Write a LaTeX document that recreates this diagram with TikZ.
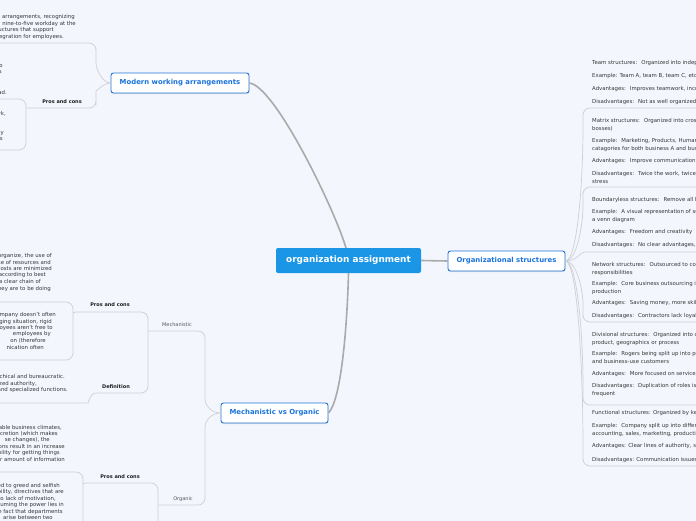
\documentclass[tikz,border=0pt]{standalone}
\usepackage{fontspec}
\setmainfont{DejaVu Sans}
\usetikzlibrary{shadows}
\definecolor{bgc}{RGB}{243,246,253}
\definecolor{rootc}{RGB}{27,150,230}
\definecolor{mainb}{RGB}{35,115,215}
\definecolor{maint}{RGB}{25,115,220}
\definecolor{txt}{RGB}{55,55,55}
\definecolor{lblc}{RGB}{30,30,30}
\definecolor{sublc}{RGB}{85,85,85}
\definecolor{conn}{RGB}{205,207,212}
\definecolor{connm}{RGB}{170,170,170}
\tikzset{
 rootbox/.style={fill=rootc, text=white, font=\fontsize{8.9}{10}\selectfont\bfseries, rounded corners=2pt, minimum width=145pt, minimum height=25pt, inner sep=0pt},
 mainbox/.style={fill=white, draw=mainb, line width=0.9pt, text=maint, font=\fontsize{6.9}{8}\selectfont\bfseries, rounded corners=2.5pt, minimum height=20pt, inner sep=0pt, drop shadow={opacity=0.2,shadow xshift=0.4pt,shadow yshift=-1pt}},
 rtx/.style={anchor=base west, inner sep=0pt, text=txt, font=\fontsize{5.4}{6.5}\selectfont},
 ltx/.style={anchor=base east, inner sep=0pt, text=txt, font=\fontsize{5.4}{6.5}\selectfont},
 lbl/.style={inner sep=0pt, text=lblc, font=\fontsize{5}{6}\selectfont\bfseries},
 sublbl/.style={inner sep=0pt, text=sublc, font=\fontsize{5}{6}\selectfont},
 subline/.style={draw=conn, line width=0.7pt, rounded corners=7pt},
 mainline/.style={draw=connm, line width=1.6pt},
}
\newcommand\RT[3]{\node[rtx] (#1) at (592,{#2+1.8}) {#3};}
\newcommand\LT[4]{\node[ltx] (#1) at (#2,{#3+1.8}) {#4};}
\begin{document}
\begin{tikzpicture}[x=1pt,y=-1pt]
\useasboundingbox (0,0) rectangle (696,520);
\clip (0,0) rectangle (696,520);
\fill[bgc] (-5,-5) rectangle (701,525);

% main nodes
\node[rootbox] (root) at (348.5,260.5) {organization assignment};
\node[mainbox, minimum width=117pt] (org) at (506.5,261) {Organizational structures};
\node[mainbox, minimum width=138pt] (mod) at (180,83) {Modern working arrangements};
\node[mainbox, minimum width=107pt] (mvo) at (274.5,413) {Mechanistic vs Organic};

% main connectors
\coordinate (roottop) at (346,248);
\draw[mainline] (mod.east) .. controls (275,86) and (335,210) .. (roottop);
\draw[mainline] (root.south) .. controls (347,330) and (341,400) .. (mvo.east);
\draw[mainline] (root.east) -- (org.west);

% organizational structures connectors
\foreach \b in {108,187}
  \draw[subline] (org.east) .. controls (577,261) and (583,{(\b+261)/2}) .. (583,\b+12) -- (583,\b) -- (700,\b);
\draw[subline] (org.east) .. controls (578,261) and (579,252) .. (592,252) -- (700,252);
\foreach \b in {322,405,466}
  \draw[subline] (org.east) .. controls (577,261) and (583,{(\b+261)/2}) .. (583,\b-12) -- (583,\b) -- (700,\b);

% right texts
\RT{r1}{63}{Team structures:~ Organized into independent teams}
\RT{r2}{76}{Example: Team A, team B, team C, etc. each with}
\RT{r3}{89}{Advantages:~ Improves teamwork, increases flexibility}
\RT{r4}{102}{Disadvantages:~ Not as well organized}
\RT{r5}{121}{Matrix structures:~ Organized into cross-functional teams (two}
\RT{r6}{128.5}{bosses)}
\RT{r7}{141}{Example:~ Marketing, Products, Human Resources as}
\RT{r8}{148.5}{catagories for both business A and business B}
\RT{r9}{161}{Advantages:~ Improve communication between}
\RT{r10}{174}{Disadvantages:~ Twice the work, twice the}
\RT{r11}{181.5}{stress}
\RT{r12}{200}{Boundaryless structures:~ Remove all boundaries}
\RT{r13}{212}{Example:~ A visual representation of such as}
\RT{r14}{219.5}{a venn diagram}
\RT{r15}{232}{Advantages:~ Freedom and creativity}
\RT{r16}{245}{Disadvantages:~ No clear advantages, confusing}
\RT{r17}{265}{Network structures:~ Outsourced to contractors with}
\RT{r18}{272.5}{responsibilities}
\RT{r19}{284}{Example:~ Core business outsourcing its}
\RT{r20}{291.5}{production}
\RT{r21}{303}{Advantages:~ Saving money, more skilled}
\RT{r22}{316}{Disadvantages:~ Contractors lack loyalty}
\RT{r23}{335}{Divisional structures:~ Organized into divisions by}
\RT{r24}{342.5}{product, geographics or process}
\RT{r25}{354}{Example:~ Rogers being split up into personal}
\RT{r26}{361.5}{and business-use customers}
\RT{r27}{374}{Advantages:~ More focused on service}
\RT{r28}{386}{Disadvantages:~ Duplication of roles is}
\RT{r29}{393.5}{frequent}
\RT{r30}{413}{Functional structures: Organized by key}
\RT{r31}{426}{Example:~ Company split up into different}
\RT{r32}{433.5}{accounting, sales, marketing, production}
\RT{r33}{446}{Advantages: Clear lines of authority, simple}
\RT{r34}{460}{Disadvantages: Communication issues}

% modern working arrangements branch
\coordinate (mc1) at (-10,43);
\coordinate (mpend) at (26,108);
\draw[subline] (mod.west) .. controls (103,83) and (96,70) .. (96,56) -- (96,43) -- (mc1);
\draw[subline] (mod.west) .. controls (103,83) and (96,92) .. (96,98) -- (96,108) -- (mpend);
\node[lbl] (mpros) at (62,102) {Pros and cons};
\coordinate (mpa) at (-10,99);
\coordinate (mpb) at (-10,150);
\draw[subline] (mpa) -- (26,99) -- (26,150) -- (mpb);

\LT{l1}{75}{17}{working arrangements, recognizing}
\LT{l2}{76}{24}{the traditional nine-to-five workday at the}
\LT{l3}{54}{30}{and new structures that support}
\LT{l4}{64}{37}{and better integration for employees.}
\LT{l5}{3}{66}{to}
\LT{l6}{2}{72}{s}
\LT{l7}{7}{93}{instead.}
\LT{l8}{6}{114}{network,}
\LT{l9}{4}{133}{productivity}
\LT{l10}{3}{139}{employees}

% mechanistic vs organic branch
\coordinate (mechend) at (148,331);
\coordinate (orgend) at (158,505);
\draw[subline] (mvo.west) .. controls (211,413) and (205,405) .. (205,392) -- (205,331) -- (mechend);
\draw[subline] (mvo.west) .. controls (211,413) and (205,421) .. (205,434) -- (205,505) -- (orgend);
\node[sublbl] (mech) at (177,325) {Mechanistic};
\node[sublbl] (orgn) at (183,499) {Organic};

\coordinate (mpros1) at (75,312);
\coordinate (mdef1) at (97,393);
\draw[subline] (mpros1) -- (148,312) -- (148,393) -- (mdef1);
\node[lbl] (mechpros) at (110,305) {Pros and cons};
\node[lbl] (mechdef) at (116,387) {Definition};
\coordinate (mca) at (-10,302);
\coordinate (mcb) at (-10,360);
\draw[subline] (mca) -- (73,302) -- (73,360) -- (mcb);
\draw[subline] (mpros1) -- (73,312);
\coordinate (mdc) at (-10,403);
\draw[subline] (mdef1) .. controls (89,393) and (89,403) .. (81,403) -- (mdc);

\coordinate (opros1) at (85,483);
\coordinate (odown) at (158,540);
\draw[subline] (opros1) -- (158,483) -- (odown);
\node[lbl] (orgpros) at (120,477) {Pros and cons};
\coordinate (oca) at (-10,472);
\coordinate (ocb) at (83,540);
\draw[subline] (oca) -- (83,472) -- (ocb);
\draw[subline] (opros1) -- (83,483);

\LT{m1}{52}{256}{easy to organize, the use of}
\LT{m2}{51}{263}{efficient use of resources and}
\LT{m3}{52}{269}{operating costs are minimized}
\LT{m4}{46}{275}{tasks assigned according to best}
\LT{m5}{41}{282}{there is a clear chain of}
\LT{m6}{51}{289}{employees know what they are to be doing}
\LT{m7}{56}{315}{Cons: the company doesn't often}
\LT{m8}{52}{322}{adapt to a changing situation, rigid}
\LT{m9}{53}{328}{rules mean employees aren't free to}
\LT{m10}{51}{334}{employees by}
\LT{m11}{46}{341}{on (therefore}
\LT{m12}{44}{348}{nication often}
\LT{m13}{65}{377}{is hierarchical and bureaucratic.}
\LT{m14}{37}{384}{ized authority,}
\LT{m15}{68}{390}{and specialized functions.}

\LT{o1}{62}{428}{stable business climates,}
\LT{o2}{58}{434}{discretion (which makes}
\LT{o3}{50}{440}{se changes), the}
\LT{o4}{65}{447}{decisions result in an increase}
\LT{o5}{60}{453}{flexibility for getting things}
\LT{o6}{65}{460}{greater amount of information}
\LT{o7}{60}{486}{led to greed and selfish}
\LT{o8}{64}{492}{flexibility, directives that are}
\LT{o9}{56}{499}{due to lack of motivation,}
\LT{o10}{64}{505}{assuming the power lies in}
\LT{o11}{63}{512}{the fact that departments}
\LT{o12}{53}{518}{arise between two}
\end{tikzpicture}
\end{document}
